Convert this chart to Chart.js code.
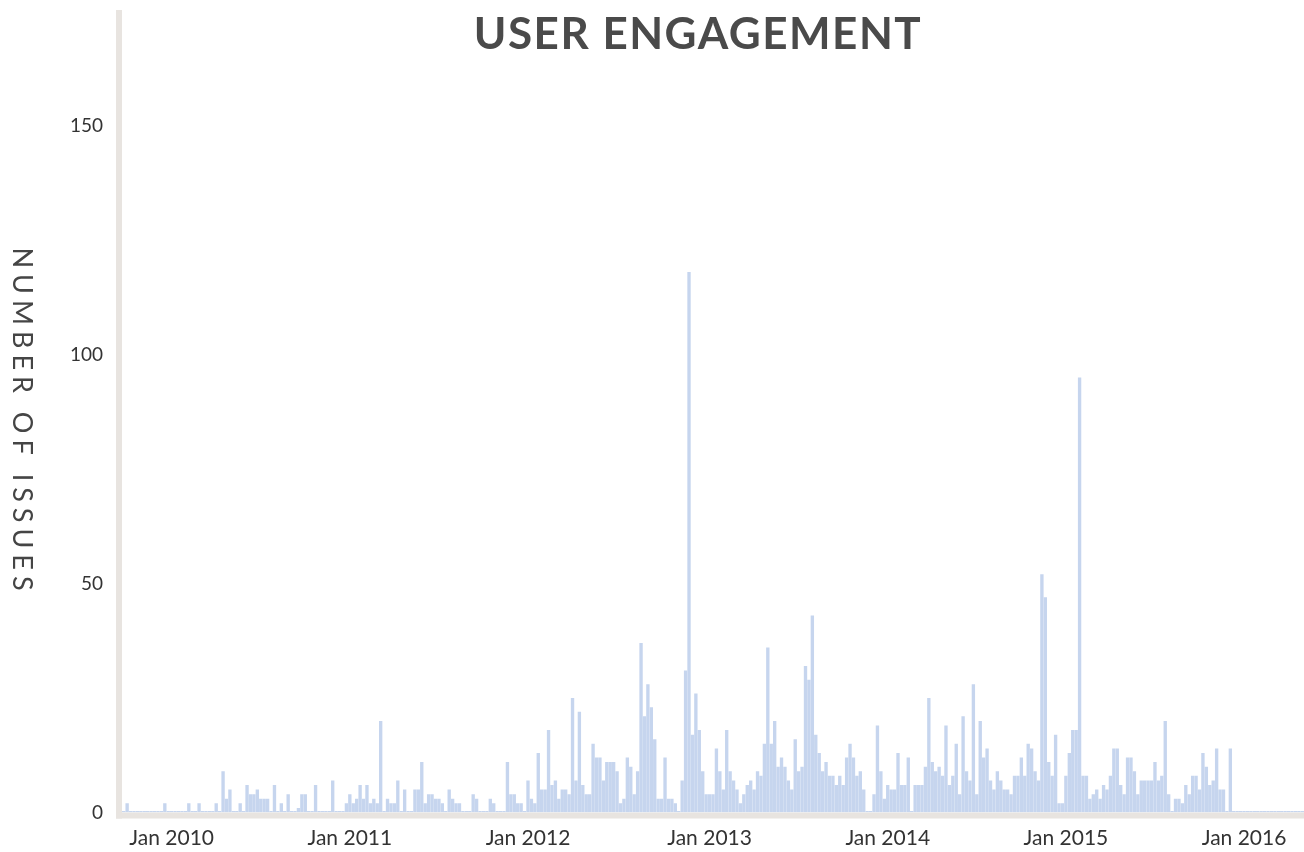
<!DOCTYPE html>
<html>
<head>
<meta charset="utf-8">
<title>User Engagement</title>
<script src="https://cdn.jsdelivr.net/npm/chart.js@4.4.0/dist/chart.umd.min.js"></script>
<style>
    html, body { margin: 0; padding: 0; background: #fff; overflow: hidden; }
    #wrap { position: relative; width: 1304px; height: 852px; }
    #wrap canvas { display: block; }
</style>
</head>
<body>
<div id="wrap"><canvas id="engagementChart"></canvas></div>
<script>
// weekly buckets, first one starts on this monday
const firstWeek = "2009-09-21";

// number of issues per week
const issueCounts = [
    0, 2, 0, 0, 0, 0, 0, 0, 0, 0,
    0, 0, 2, 0, 0, 0, 0, 0, 0, 2,
    0, 0, 2, 0, 0, 0, 0, 2, 0, 9,
    3, 5, 0, 0, 2, 0, 6, 4, 4, 5,
    3, 3, 3, 0, 6, 0, 2, 0, 4, 0,
    0, 1, 4, 4, 0, 0, 6, 0, 0, 0,
    0, 7, 0, 0, 0, 2, 4, 2, 3, 6,
    3, 6, 2, 3, 2, 20, 0, 3, 2, 2,
    7, 0, 5, 0, 0, 5, 5, 11, 2, 4,
    4, 3, 3, 2, 0, 5, 3, 2, 2, 0,
    0, 0, 4, 3, 0, 0, 0, 3, 2, 0,
    0, 0, 11, 4, 4, 2, 2, 0, 7, 3,
    2, 13, 5, 5, 18, 6, 7, 3, 5, 5,
    4, 25, 7, 22, 6, 4, 4, 15, 12, 12,
    7, 11, 11, 11, 9, 2, 3, 12, 10, 4,
    9, 37, 21, 28, 23, 16, 3, 3, 12, 3,
    3, 2, 0, 7, 31, 118, 17, 26, 18, 9,
    4, 4, 4, 14, 9, 5, 18, 9, 7, 5,
    2, 4, 6, 7, 5, 9, 8, 15, 36, 15,
    20, 10, 12, 10, 7, 5, 16, 9, 10, 32,
    29, 43, 17, 13, 9, 11, 8, 8, 6, 8,
    6, 12, 15, 12, 8, 9, 5, 0, 0, 4,
    19, 9, 3, 6, 5, 5, 13, 6, 6, 12,
    0, 6, 6, 6, 10, 25, 11, 9, 10, 8,
    19, 6, 8, 15, 4, 21, 9, 7, 28, 4,
    20, 12, 14, 7, 5, 9, 7, 5, 5, 4,
    8, 8, 12, 8, 15, 14, 9, 7, 52, 47,
    11, 8, 17, 2, 2, 8, 13, 18, 18, 95,
    8, 8, 3, 4, 5, 3, 6, 5, 8, 14,
    14, 6, 4, 12, 12, 9, 4, 7, 7, 7,
    7, 11, 7, 8, 20, 4, 0, 3, 3, 2,
    6, 4, 8, 8, 5, 13, 10, 6, 7, 14,
    5, 5, 0, 14, 0, 0, 0, 0, 0, 0,
    0, 0, 0, 0, 0, 0, 0, 0, 0, 0,
    0, 0, 0, 0, 0
];

const yearLabels = ["Jan 2010", "Jan 2011", "Jan 2012", "Jan 2013", "Jan 2014", "Jan 2015", "Jan 2016"];
const yTickValues = [0, 50, 100, 150];

// one label per week (start date)
const weekLabels = issueCounts.map((_, i) => {
    const d = new Date(firstWeek + "T00:00:00Z");
    d.setUTCDate(d.getUTCDate() + 7 * i);
    return d.toISOString().slice(0, 10);
});

// scales add label padding to the chart area, we want fixed edges
function noScalePadding(scale) {
    scale.paddingTop = 0;
    scale.paddingBottom = 0;
    scale.paddingLeft = 0;
    scale.paddingRight = 0;
}

// thick light axis lines under the plot
const axisBands = {
    id: "axisBands",
    afterDatasetsDraw(chart) {
        const { ctx, chartArea } = chart;
        ctx.save();
        ctx.fillStyle = "#e8e4e0";
        ctx.fillRect(chartArea.left - 6, 10, 6, chartArea.bottom + 6 - 10);
        ctx.fillRect(chartArea.left - 6, chartArea.bottom, chartArea.right - chartArea.left + 6, 6);
        ctx.restore();
    }
};

// title sits inside the plot, y title reads top to bottom
const titles = {
    id: "titles",
    afterDraw(chart) {
        const c = chart.ctx;
        c.save();
        c.fillStyle = "#4a4a4a";
        c.textAlign = "center";
        c.textBaseline = "middle";
        c.font = "bold 44px Lato";
        c.letterSpacing = "1.5px";
        c.fillText("USER ENGAGEMENT", 698, 35);
        c.translate(22, 422);
        c.rotate(Math.PI / 2);
        c.font = "27px Lato";
        c.letterSpacing = "6px";
        c.fillStyle = "#454545";
        c.fillText("NUMBER OF ISSUES", 0, 0);
        c.restore();
    }
};

const ctx = document.getElementById("engagementChart").getContext("2d");

new Chart(ctx, {
    type: "bar",
    data: {
        labels: weekLabels,
        datasets: [
            {
                label: "Issues",
                data: issueCounts,
                backgroundColor: "#c6d5ee",
                borderWidth: 0,
                barPercentage: 1,
                categoryPercentage: 0.98,
                minBarLength: 1.5,
            },
        ],
    },
    options: {
        responsive: true,
        maintainAspectRatio: false,
        animation: false,
        layout: { padding: { top: 11, right: 0, bottom: 0, left: 0 } },
        plugins: {
            legend: { display: false },
            tooltip: { enabled: false },
        },
        scales: {
            x: {
                grid: { display: false, drawTicks: false },
                border: { display: false },
                ticks: {
                    autoSkip: false,
                    maxRotation: 0,
                    minRotation: 0,
                    padding: 13,
                    color: "#333",
                    font: { family: "Lato", size: 21 },
                    callback: function (value) {
                        const start = new Date(this.getLabelForValue(value) + "T00:00:00Z");
                        const end = new Date(start);
                        end.setUTCDate(end.getUTCDate() + 6);
                        const newYear = end.getUTCFullYear() !== start.getUTCFullYear() ||
                            (start.getUTCMonth() === 0 && start.getUTCDate() === 1);
                        if (!newYear) return "";
                        return yearLabels[end.getUTCFullYear() - 2010] || "";
                    },
                },
                afterFit(scale) {
                    scale.height = 39.5;
                    noScalePadding(scale);
                },
            },
            y: {
                min: 0,
                max: 175,
                grid: { display: false, drawTicks: false },
                border: { display: false },
                ticks: {
                    padding: 19,
                    color: "#333",
                    font: { family: "Lato", size: 19 },
                },
                afterBuildTicks(scale) {
                    scale.ticks = yTickValues.map((v) => ({ value: v }));
                },
                afterFit(scale) {
                    scale.width = 122;
                    noScalePadding(scale);
                },
            },
        },
    },
    plugins: [axisBands, titles],
});
</script>
</body>
</html>
